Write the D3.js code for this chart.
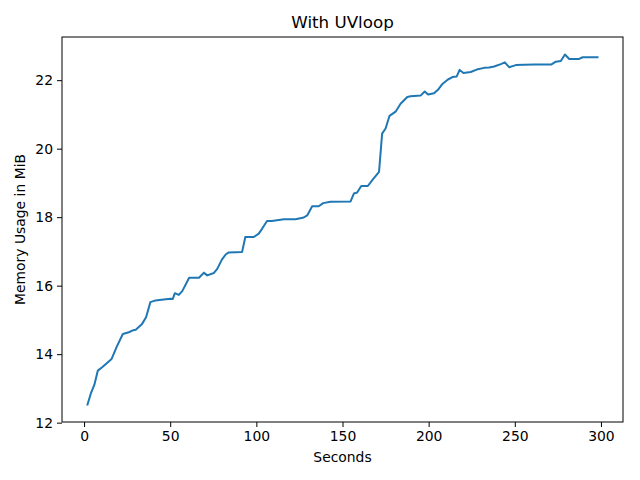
<!DOCTYPE html>
<html>
<head>
<meta charset="utf-8">
<script src="https://cdn.jsdelivr.net/npm/d3@7"></script>
<style>
  body { margin: 0; background: #fff; }
  text { font-family: "DejaVu Sans", sans-serif; fill: #000; }
</style>
</head>
<body>
<div class="chart"></div>
<script>
// values
var seconds = [2, 4, 6, 8, 10.5, 16, 19, 22.5, 26, 28, 30, 33.5, 36, 38.5, 41.5, 45, 50, 51.5, 52.7, 55, 57, 61, 66.7, 69.6, 71.5, 75.4, 77.3, 80, 82.2, 84, 91.7, 93.6, 98.5, 101.4, 103.3, 106.2, 109, 116, 122.7, 127.5, 129.5, 132.4, 136.2, 138.8, 143, 154.7, 156.6, 158.5, 160.9, 164.7, 167.3, 171.2, 173, 175, 177.3, 180.8, 183.7, 187.6, 189.5, 195.3, 197.7, 199.7, 203.1, 205.4, 208, 211.2, 213.8, 216.3, 218, 220.2, 224.4, 227.9, 232.2, 235.1, 238, 241.9, 244.2, 246.7, 250.6, 255.4, 261.2, 271.3, 273.8, 276.7, 279.1, 281.6, 287.4, 289.4, 298];
var memory = [12.53, 12.86, 13.11, 13.52, 13.62, 13.86, 14.22, 14.59, 14.64, 14.69, 14.71, 14.87, 15.08, 15.52, 15.57, 15.59, 15.62, 15.61, 15.78, 15.73, 15.84, 16.23, 16.23, 16.38, 16.30, 16.37, 16.49, 16.76, 16.91, 16.97, 16.98, 17.42, 17.42, 17.52, 17.66, 17.89, 17.89, 17.94, 17.94, 17.99, 18.05, 18.32, 18.32, 18.41, 18.45, 18.46, 18.69, 18.72, 18.91, 18.91, 19.08, 19.32, 20.44, 20.59, 20.96, 21.08, 21.31, 21.51, 21.53, 21.55, 21.67, 21.58, 21.62, 21.72, 21.89, 22.02, 22.09, 22.11, 22.30, 22.21, 22.24, 22.31, 22.36, 22.37, 22.40, 22.47, 22.52, 22.38, 22.44, 22.45, 22.46, 22.46, 22.54, 22.56, 22.75, 22.62, 22.62, 22.67, 22.67];
var xTicks = [0, 50, 100, 150, 200, 250, 300];
var yTicks = [12, 14, 16, 18, 20, 22];

var svgWidth = 640;
var svgHeight = 480;
var margin = { top: 37, right: 17, bottom: 58, left: 62 };
var width = svgWidth - margin.left - margin.right;
var height = svgHeight - margin.top - margin.bottom;

var svg = d3.select(".chart")
    .append("svg")
    .attr("width", svgWidth)
    .attr("height", svgHeight);

var chart = svg.append("g")
    .attr("transform", `translate(${margin.left},${margin.top})`);

var data = seconds.map(function (s, i) { return { s: s, m: memory[i] }; });

// matplotlib style 5% padding around the data
var xMin = d3.min(seconds), xMax = d3.max(seconds);
var yMin = d3.min(memory), yMax = d3.max(memory);
var xPad = (xMax - xMin) * 0.05, yPad = (yMax - yMin) * 0.05;

var xScale = d3.scaleLinear().domain([xMin - xPad, xMax + xPad]).range([0, width]);
var yScale = d3.scaleLinear().domain([yMin - yPad, yMax + yPad]).range([height, 0]);

var xAxis = d3.axisBottom(xScale).tickValues(xTicks).tickSize(5).tickPadding(4).tickFormat(d3.format("d"));
var yAxis = d3.axisLeft(yScale).tickValues(yTicks).tickSize(5).tickPadding(4).tickFormat(d3.format("d"));

var line = d3.line()
    .x(function (d) { return xScale(d.s); })
    .y(function (d) { return yScale(d.m); });

chart.append("path")
    .datum(data)
    .attr("fill", "none")
    .attr("stroke", "#1f77b4")
    .attr("stroke-width", 2)
    .attr("stroke-linejoin", "round")
    .attr("stroke-linecap", "square")
    .attr("d", line);

var gx = chart.append("g")
    .attr("class", "x-axis")
    .attr("transform", `translate(0,${height})`)
    .call(xAxis);

var gy = chart.append("g")
    .attr("class", "y-axis")
    .call(yAxis);

[gx, gy].forEach(function (g) {
    g.select(".domain").remove();
    g.selectAll(".tick line").attr("stroke", "#000").attr("stroke-width", 1);
    g.selectAll(".tick text").attr("font-size", "13.9px").attr("font-family", "DejaVu Sans, sans-serif");
});

// frame
chart.append("rect")
    .attr("width", width)
    .attr("height", height)
    .attr("fill", "none")
    .attr("stroke", "#000")
    .attr("stroke-width", 1);

svg.append("text")
    .attr("x", margin.left + width / 2)
    .attr("y", 28)
    .attr("text-anchor", "middle")
    .attr("font-size", "16.7px")
    .text("With UVloop");

svg.append("text")
    .attr("x", margin.left + width / 2)
    .attr("y", 462)
    .attr("text-anchor", "middle")
    .attr("font-size", "13.9px")
    .text("Seconds");

svg.append("text")
    .attr("transform", `translate(25,${margin.top + height / 2})rotate(-90)`)
    .attr("text-anchor", "middle")
    .attr("font-size", "13.9px")
    .text("Memory Usage in MiB");
</script>
</body>
</html>
